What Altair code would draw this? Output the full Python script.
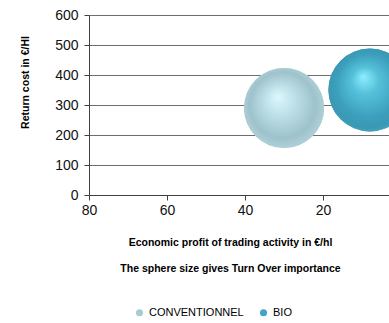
import altair as alt
import pandas as pd

series = ["CONVENTIONNEL", "BIO"]
profit = [30, 8]            # Economic profit of trading activity (€/hl)
return_cost = [290, 350]    # Return cost (€/HI)
turnover = [93, 100]        # relative turnover (sphere size)

x_ticks = [80, 60, 40, 20]
y_ticks = [0, 100, 200, 300, 400, 500, 600]

df = pd.DataFrame({"series": series, "profit": profit, "cost": return_cost, "turnover": turnover})

FONT = "Liberation Sans"

x_enc = alt.X(
    "profit:Q",
    scale=alt.Scale(domain=[3.1, 80], reverse=True, nice=False, zero=False),
    axis=alt.Axis(
        values=x_ticks,
        title=["Economic profit of trading activity in €/hl", "The sphere size gives Turn  Over importance"],
        titleFontSize=10.5, titleFontWeight="bold", titleColor="#000000",
        titleLineHeight=26, titlePadding=20, titleX=141, titleAnchor="middle",
        labelFontSize=14, labelColor="#111111", labelPadding=3,
        tickSize=5, tickColor="#404040", domainColor="#404040",
        grid=False, labelFlush=False,
    ),
)
y_enc = alt.Y(
    "cost:Q",
    scale=alt.Scale(domain=[0, 600], nice=False),
    axis=alt.Axis(
        values=y_ticks,
        title="Return cost in €/HI",
        titleFontSize=10.5, titleFontWeight="bold", titleColor="#000000",
        titleAngle=270, titleX=-64, titleY=67, titleAlign="center", titleBaseline="middle",
        labelFontSize=14, labelColor="#111111", labelPadding=6,
        tickSize=5, tickColor="#404040", domainColor="#404040",
        grid=True, gridColor="#6e6e6e", gridWidth=1,
    ),
)
size_enc = alt.Size("turnover:Q", scale=alt.Scale(domain=[0, 100], range=[0, 6889]), legend=None)

base = alt.Chart(df).mark_circle(opacity=1, stroke=None).encode(
    x=x_enc, y=y_enc, size=size_enc,
    color=alt.Color(
        "series:N",
        scale=alt.Scale(domain=series, range=["#a6cbd5", "#3fa6c4"]),
        legend=alt.Legend(
            title=None, orient="none", direction="horizontal",
            legendX=45, legendY=292,
            symbolType="circle", symbolSize=50, symbolStrokeWidth=0,
            labelFontSize=11, labelColor="#000000", labelOffset=4,
            columnPadding=14,
        ),
    ),
)

conv_fill = {
    "gradient": "radial",
    "x1": 0.42, "y1": 0.36, "r1": 0.0,
    "x2": 0.5, "y2": 0.5, "r2": 0.55,
    "stops": [
        {"offset": 0.0, "color": "#dcf8fd"},
        {"offset": 0.35, "color": "#bde0e8"},
        {"offset": 0.75, "color": "#9ec2cb"},
        {"offset": 0.92, "color": "#afcfd7"},
        {"offset": 1.0, "color": "#d0e6eb"},
    ],
}
bio_fill = {
    "gradient": "radial",
    "x1": 0.42, "y1": 0.34, "r1": 0.0,
    "x2": 0.5, "y2": 0.5, "r2": 0.55,
    "stops": [
        {"offset": 0.0, "color": "#8eeeff"},
        {"offset": 0.3, "color": "#55c0da"},
        {"offset": 0.7, "color": "#3b9fbc"},
        {"offset": 0.88, "color": "#3a98b3"},
        {"offset": 1.0, "color": "#5ab6cd"},
    ],
}

conv = alt.Chart(df).transform_filter(alt.datum.series == "CONVENTIONNEL").mark_circle(
    opacity=1, fill=conv_fill, stroke=None
).encode(x=x_enc, y=y_enc, size=size_enc)

bio = alt.Chart(df).transform_filter(alt.datum.series == "BIO").mark_circle(
    opacity=1, fill=bio_fill, stroke=None
).encode(x=x_enc, y=y_enc, size=size_enc)

chart = alt.layer(base, conv, bio).properties(
    width=300, height=180,
    padding={"left": 89, "top": 15, "right": 0, "bottom": 128},
    autosize=alt.AutoSizeParams(type="none"),
    background="#ffffff",
).configure(font=FONT).configure_view(stroke=None)

chart.save("out.html", embed_options={"renderer": "svg", "actions": False})
